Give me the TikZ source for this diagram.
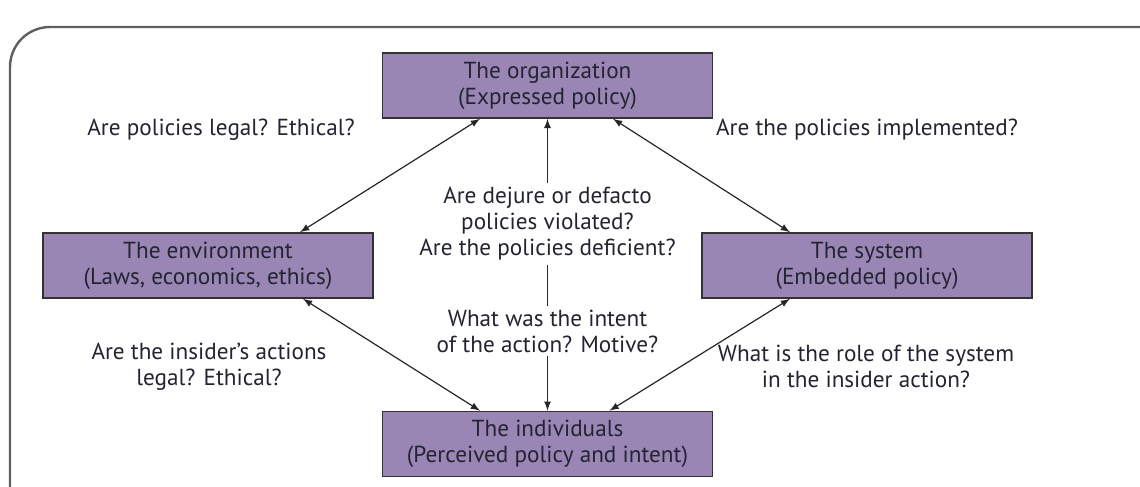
\documentclass[tikz,border=0pt]{standalone}
\usepackage{fontspec}
\setmainfont{PT Sans}
\definecolor{boxfill}{RGB}{153,134,180}
\definecolor{framegray}{RGB}{95,95,95}
\definecolor{textnavy}{RGB}{35,35,50}
\tikzset{
  entity/.style={draw=black!80, fill=boxfill, line width=0.8pt,
    minimum width=165pt, minimum height=32.5pt, align=center, inner sep=1pt,
    font=\fontsize{11.6}{13}\selectfont, text=textnavy},
  question/.style={align=center, font=\fontsize{11.6}{13}\selectfont,
    text=textnavy, inner sep=2pt},
  link/.style={<->, >=latex, line width=0.6pt, draw=black!85},
}
\begin{document}
\begin{tikzpicture}[x=0.5pt,y=-0.5pt]
\useasboundingbox (0,0) rectangle (1140,487);
% frame
\draw[framegray, line width=1.2pt, rounded corners=20pt] (10,500) -- (10,27) -- (1150,27);
% the four parties
\node[entity] (org) at (547.5,85.5) {The organization\\(Expressed policy)};
\node[entity] (env) at (208,265.5) {The environment\\(Laws, economics, ethics)};
\node[entity] (sys) at (867,265.5) {The system\\(Embedded policy)};
\node[entity] (ind) at (547.5,444) {The individuals\\(Perceived policy and intent)};
% links
\draw[link] ([xshift=-33.75pt]org.south) -- ([xshift=46pt]env.north);
\draw[link] ([xshift=47.5pt]env.south) -- ([xshift=-33.75pt]ind.north);
\draw[link] ([xshift=32.75pt]org.south) -- ([xshift=-38.5pt]sys.north);
\draw[link] ([xshift=-38.5pt]sys.south) -- ([xshift=31pt]ind.north);
\draw[link] (org) -- (ind);
% questions
\node[question] (legal) at (221,130) {Are policies legal? Ethical?};
\node[question] (impl) at (867,130) {Are the policies implemented?};
\node[question, fill=white] (viol) at (547.5,224) {Are dejure or defacto\\policies violated?\\Are the policies deficient?};
\node[question, fill=white] (intent) at (547.5,331) {What was the intent\\of the action? Motive?};
\node[question] (act) at (209,366.5) {Are the insider’s actions\\legal? Ethical?};
\node[question] (role) at (866,366.5) {What is the role of the system\\in the insider action?};
\end{tikzpicture}
\end{document}
